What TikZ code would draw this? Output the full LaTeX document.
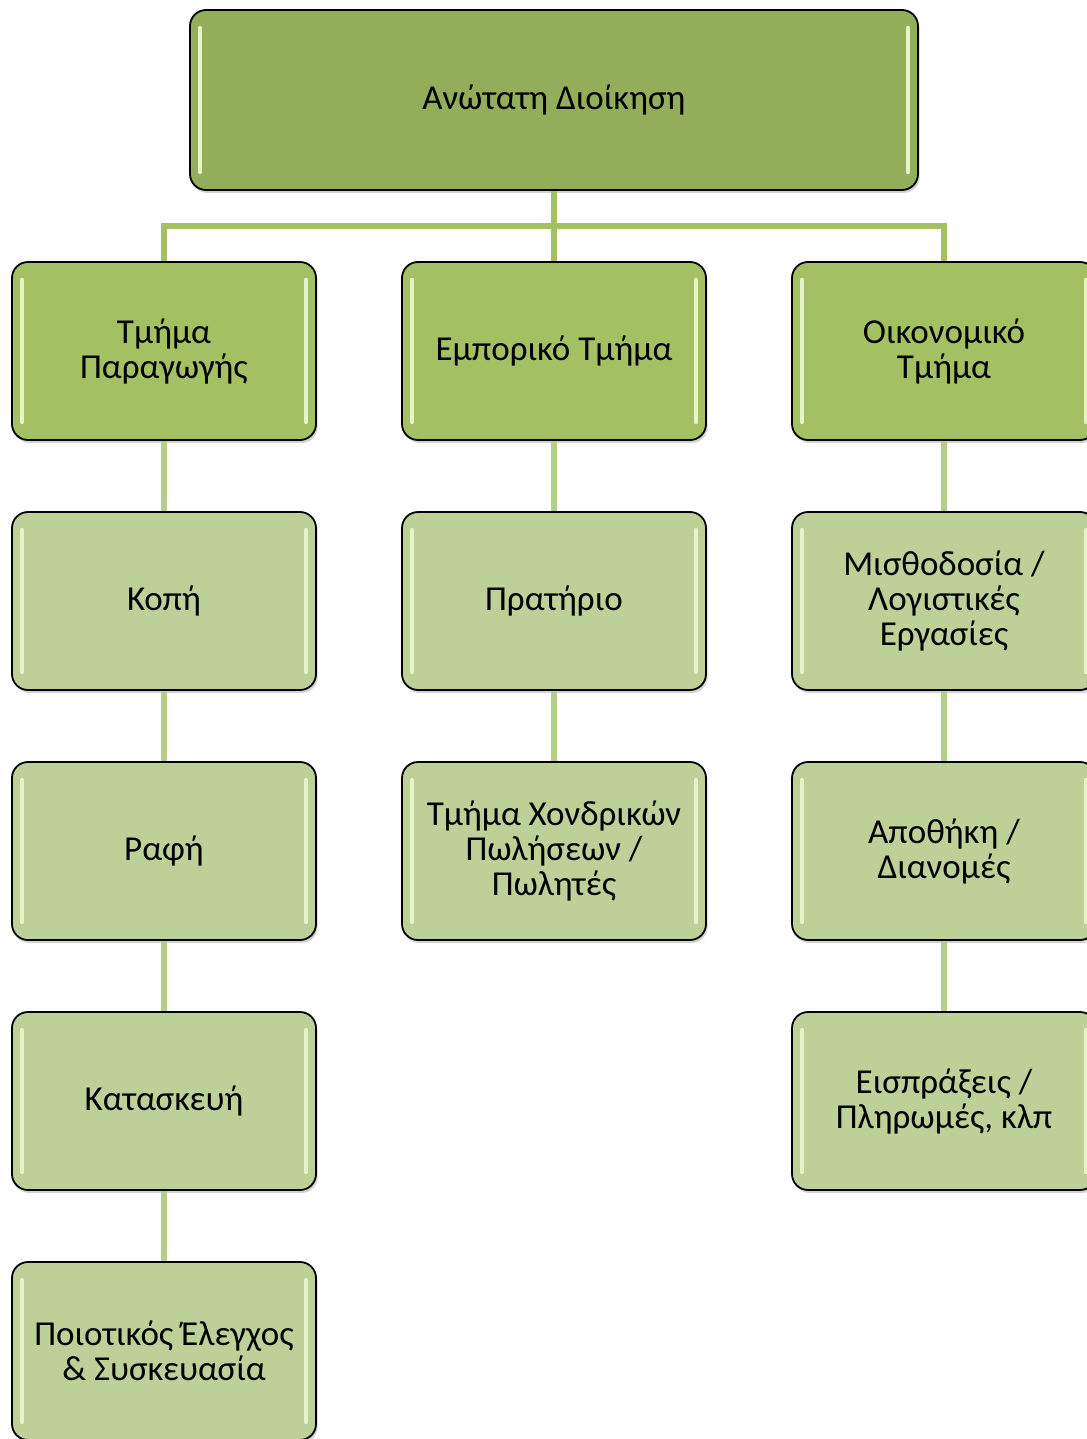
\documentclass[tikz,border=0pt]{standalone}
\usepackage{fontspec}
\setmainfont{Carlito}
\usetikzlibrary{shadows}

\definecolor{topgreen}{HTML}{93AE5A}
\definecolor{deptgreen}{HTML}{A3C163}
\definecolor{unitgreen}{HTML}{BCD098}
\definecolor{linkgreen}{HTML}{B5CE8A}
\definecolor{glossgreen}{HTML}{E6F5C8}

\tikzset{
  orgbox/.style={draw=black, line width=0.9pt, rounded corners=8pt, align=center,
    minimum width=152pt, minimum height=89pt, inner sep=2pt,
    font=\fontsize{17.5}{17.5}\selectfont,
    drop shadow={shadow xshift=0.8pt, shadow yshift=-1.5pt, opacity=0.35},
    path picture={
      \draw[glossgreen, line width=2.2pt, line cap=round]
        ([xshift=5pt,yshift=-9pt]path picture bounding box.north west) --
        ([xshift=5pt,yshift=9pt]path picture bounding box.south west);
      \draw[glossgreen, line width=2.2pt, line cap=round]
        ([xshift=-5pt,yshift=-9pt]path picture bounding box.north east) --
        ([xshift=-5pt,yshift=9pt]path picture bounding box.south east);
    }},
  headbox/.style={orgbox, fill=topgreen, minimum width=364pt, minimum height=90pt},
  deptbox/.style={orgbox, fill=deptgreen},
  unitbox/.style={orgbox, fill=unitgreen},
  link/.style={draw=linkgreen, line width=2.6pt},
  buslink/.style={draw=deptgreen, line width=2.6pt}
}

\begin{document}
\begin{tikzpicture}[x=0.5pt, y=-0.5pt]
  \useasboundingbox (0,0) rectangle (1086,1439);

  \node[headbox] (head) at (554,100) {Ανώτατη Διοίκηση};

  \node[deptbox] (prod)  at (164,351) {Τμήμα\\Παραγωγής};
  \node[deptbox] (trade) at (554,351) {Εμπορικό Τμήμα};
  \node[deptbox] (fin)   at (944,351) {Οικονομικό\\Τμήμα};

  \node[unitbox] (cut)     at (164,601)  {Κοπή};
  \node[unitbox] (sew)     at (164,851)  {Ραφή};
  \node[unitbox] (build)   at (164,1101) {Κατασκευή};
  \node[unitbox] (quality) at (164,1351) {Ποιοτικός Έλεγχος\\\& Συσκευασία};

  \node[unitbox] (shop)      at (554,601) {Πρατήριο};
  \node[unitbox] (wholesale) at (554,851) {Τμήμα Χονδρικών\\Πωλήσεων /\\Πωλητές};

  \node[unitbox] (payroll) at (944,601)  {Μισθοδοσία /\\Λογιστικές\\Εργασίες};
  \node[unitbox] (store)   at (944,851)  {Αποθήκη /\\Διανομές};
  \node[unitbox] (cash)    at (944,1101) {Εισπράξεις /\\Πληρωμές, κλπ};

  \coordinate (bus) at (554,226);
  \draw[buslink] (head.south) -- (bus);
  \draw[buslink] (bus) -| (prod.north);
  \draw[buslink] (bus) -| (fin.north);
  \draw[buslink] (bus) -- (trade.north);

  \draw[link] (prod.south) -- (cut.north);
  \draw[link] (cut.south) -- (sew.north);
  \draw[link] (sew.south) -- (build.north);
  \draw[link] (build.south) -- (quality.north);

  \draw[link] (trade.south) -- (shop.north);
  \draw[link] (shop.south) -- (wholesale.north);

  \draw[link] (fin.south) -- (payroll.north);
  \draw[link] (payroll.south) -- (store.north);
  \draw[link] (store.south) -- (cash.north);
\end{tikzpicture}
\end{document}
